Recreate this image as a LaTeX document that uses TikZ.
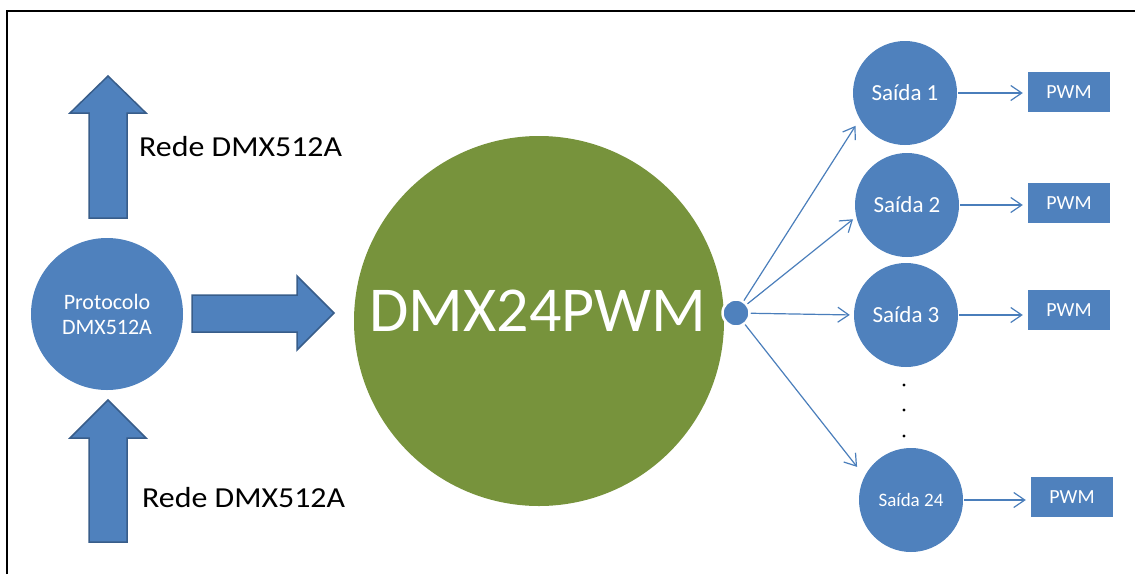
\documentclass[tikz,border=0pt]{standalone}
\usepackage{fontspec}
\setmainfont{Carlito}
\newfontfamily\redefont[FakeStretch=1.1]{Carlito}
\usetikzlibrary{arrows.meta,positioning,calc}
\definecolor{DmxBlue}{HTML}{4F81BD}
\definecolor{DmxEdge}{HTML}{385D8A}
\definecolor{DmxGreen}{HTML}{77933C}
\definecolor{DmxLine}{HTML}{4A7EBB}

\begin{document}
\begin{tikzpicture}[x=1pt,y=-1pt,>={Straight Barb[length=11pt,width=15pt]},
  bubble/.style={circle,fill=DmxBlue,text=white,inner sep=0pt,minimum size=104pt,
    font=\fontsize{23}{26}\selectfont},
  pwmbox/.style={rectangle,fill=DmxBlue,text=white,inner sep=0pt,
    minimum width=82pt,minimum height=40pt,font=\fontsize{20}{24}\selectfont},
  blockarrow/.style={fill=DmxBlue,draw=DmxEdge,line width=1.5pt},
  link/.style={DmxLine,line width=1.2pt,->},
  redetext/.style={anchor=base west,inner sep=0pt,font=\redefont\fontsize{29}{34}\selectfont}]
  \useasboundingbox (0,0) rectangle (1135,574);
  \draw[line width=2.5pt] (7,574) -- (7,11) -- (1135,11);

  % left side: protocol and network
  \node[circle,fill=DmxBlue,text=white,inner sep=0pt,minimum size=152pt,align=center,
    font=\fontsize{22}{25}\selectfont] (proto) at (107,314) {Protocolo\\DMX512A};
  \filldraw[blockarrow] (89,218) -- (89,113) -- (70,113) -- (108,76) -- (146,113)
    -- (127,113) -- (127,218) -- cycle;
  \filldraw[blockarrow] (89,542) -- (89,438) -- (70,438) -- (108,400) -- (146,438)
    -- (127,438) -- (127,542) -- cycle;
  \filldraw[blockarrow] (192,295) -- (297,295) -- (297,276) -- (334,313) -- (297,350)
    -- (297,332) -- (192,332) -- cycle;
  \node[redetext] (redeup) at (139,156) {Rede DMX512A};
  \node[redetext] (rededown) at (142,507) {Rede DMX512A};

  % core
  \node[circle,fill=DmxGreen,inner sep=0pt,minimum size=370pt] (core) at (539,321) {};
  \node[text=white,inner sep=0pt,font=\fontsize{64}{70}\selectfont] (coretext) at (538,311) {DMX24PWM};
  \node[circle,fill=DmxBlue,draw=white,line width=2.5pt,inner sep=0pt,minimum size=27pt] (hub) at (736,313) {};

  % outputs
  \node[bubble] (s1) at (905,93) {Saída 1};
  \node[bubble] (s2) at (907,205) {Saída 2};
  \node[bubble] (s3) at (906,315) {Saída 3};
  \node[bubble,font=\fontsize{19}{22}\selectfont] (s24) at (911,500) {Saída 24};
  \foreach \y in {385,410,436}
    \fill (904,\y) circle (1.6pt);

  \node[pwmbox] (p1) at (1069,92) {PWM};
  \node[pwmbox] (p2) at (1069,203) {PWM};
  \node[pwmbox] (p3) at (1069,310) {PWM};
  \node[pwmbox] (p24) at (1072,497) {PWM};

  \foreach \s/\a/\g in {s1/210/8,s2/193/4,s3/180/4,s24/153/12}
    \draw[link,shorten >=\g pt] (hub) -- (\s.\a);
  \foreach \i in {1,2,3,24}
    \draw[link,shorten <=1pt,shorten >=5pt] (s\i.east) -- (p\i.west |- s\i.east);
\end{tikzpicture}
\end{document}
